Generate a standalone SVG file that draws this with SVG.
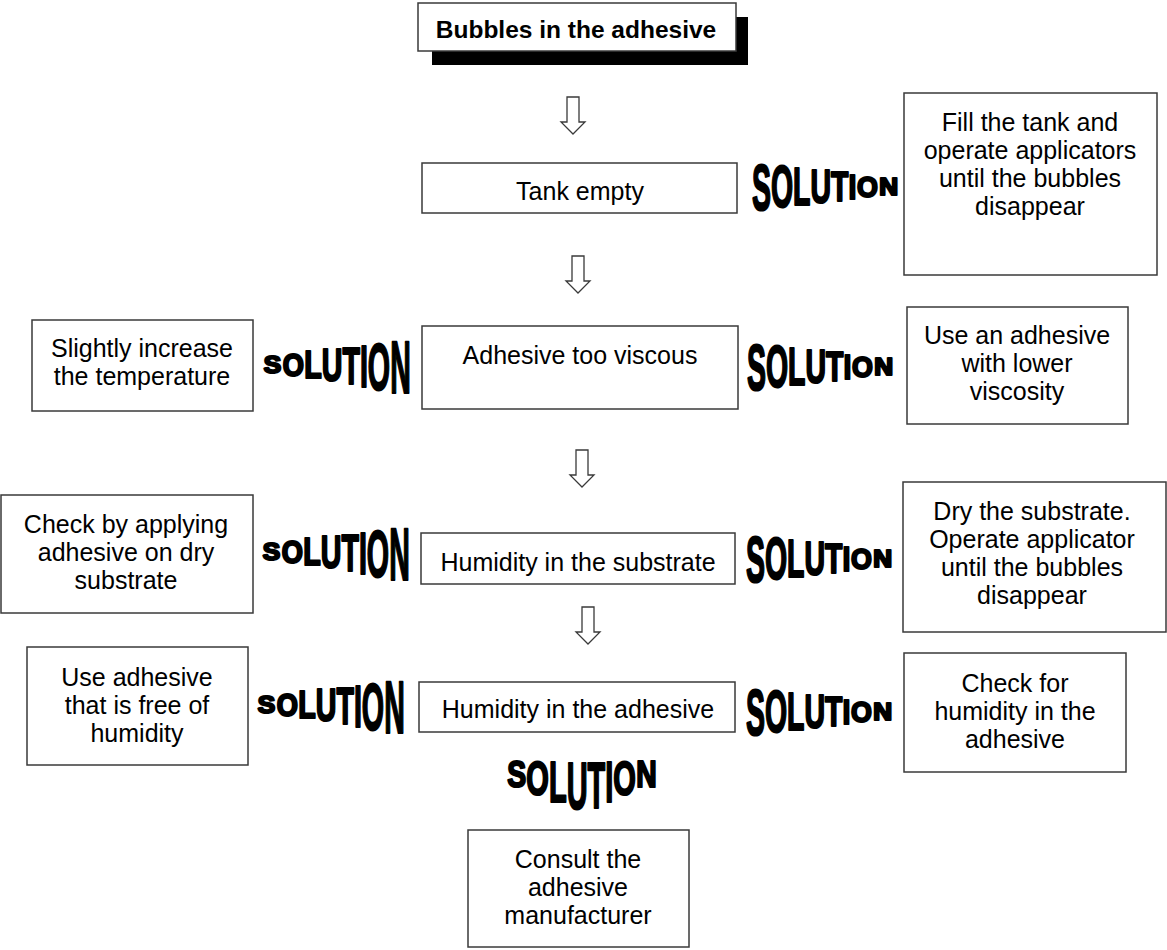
<svg xmlns="http://www.w3.org/2000/svg" width="1167" height="950" viewBox="0 0 1167 950">
<style>
.box{fill:#fff;stroke:#3a3a3a;stroke-width:1.5}
.t{font-family:"Liberation Sans",Arial,sans-serif;font-size:25px;fill:#000;text-anchor:middle}
.tb{font-family:"Liberation Sans",Arial,sans-serif;font-size:24.5px;font-weight:bold;fill:#000;text-anchor:middle}
.w{font-family:"Liberation Sans",Arial,sans-serif;font-weight:bold;fill:#000;stroke:#000;stroke-width:2.2;stroke-linejoin:round;text-anchor:middle}
.arr{fill:#fff;stroke:#3a3a3a;stroke-width:1.3}
</style>
<defs>
<path id="blk" d="M-6,0 H6 V25 H12 L0,37 L-12,25 H-6 Z"/>
</defs>
<rect width="1167" height="950" fill="#fff"/>

<g id="connectors">
<use href="#blk" class="arr" transform="translate(573,97)"/>
<use href="#blk" class="arr" transform="translate(578,256)"/>
<use href="#blk" class="arr" transform="translate(582,450)"/>
<use href="#blk" class="arr" transform="translate(588,607)"/>
</g>

<g id="title">
<rect x="432" y="17" width="316" height="48" fill="#000"/>
<rect x="418" y="3" width="318" height="48" class="box"/>
<text x="576" y="38" class="tb">Bubbles in the adhesive</text>
</g>

<g id="tank-empty">
<rect x="422" y="163" width="315" height="50" class="box"/>
<text x="580" y="200" class="t">Tank empty</text>
</g>

<g id="too-viscous">
<rect x="422" y="326" width="316" height="83" class="box"/>
<text x="580" y="364" class="t">Adhesive too viscous</text>
</g>

<g id="humidity-substrate">
<rect x="421" y="533" width="314" height="51" class="box"/>
<text x="578" y="571" class="t">Humidity in the substrate</text>
</g>

<g id="humidity-adhesive">
<rect x="419" y="682" width="316" height="50" class="box"/>
<text x="578" y="718" class="t">Humidity in the adhesive</text>
</g>

<g id="sol-fill">
<rect x="904" y="93" width="253" height="182" class="box"/>
<text class="t"><tspan x="1030" y="131">Fill the tank and</tspan><tspan x="1030" y="159">operate applicators</tspan><tspan x="1030" y="187">until the bubbles</tspan><tspan x="1030" y="215">disappear</tspan></text>
</g>

<g id="sol-lower-viscosity">
<rect x="907" y="307" width="221" height="117" class="box"/>
<text class="t"><tspan x="1017" y="344">Use an adhesive</tspan><tspan x="1017" y="372">with lower</tspan><tspan x="1017" y="400">viscosity</tspan></text>
</g>

<g id="sol-temperature">
<rect x="32" y="320" width="221" height="91" class="box"/>
<text class="t"><tspan x="142" y="357">Slightly increase</tspan><tspan x="142" y="385">the temperature</tspan></text>
</g>

<g id="sol-check-dry">
<rect x="1" y="495" width="252" height="118" class="box"/>
<text class="t"><tspan x="126" y="533">Check by applying</tspan><tspan x="126" y="561">adhesive on dry</tspan><tspan x="126" y="589">substrate</tspan></text>
</g>

<g id="sol-dry">
<rect x="903" y="482" width="263" height="150" class="box"/>
<text class="t"><tspan x="1032" y="520">Dry the substrate.</tspan><tspan x="1032" y="548">Operate applicator</tspan><tspan x="1032" y="576">until the bubbles</tspan><tspan x="1032" y="604">disappear</tspan></text>
</g>

<g id="sol-free-humidity">
<rect x="27" y="647" width="221" height="118" class="box"/>
<text class="t"><tspan x="137" y="686">Use adhesive</tspan><tspan x="137" y="714">that is free of</tspan><tspan x="137" y="742">humidity</tspan></text>
</g>

<g id="sol-check-humidity">
<rect x="904" y="653" width="222" height="119" class="box"/>
<text class="t"><tspan x="1015" y="692">Check for</tspan><tspan x="1015" y="720">humidity in the</tspan><tspan x="1015" y="748">adhesive</tspan></text>
</g>

<g id="sol-consult">
<rect x="468" y="830" width="221" height="117" class="box"/>
<text class="t"><tspan x="578" y="868">Consult the</tspan><tspan x="578" y="896">adhesive</tspan><tspan x="578" y="924">manufacturer</tspan></text>
</g>

<!-- SOLUTION word art, shrinking to the right -->
<g id="wa-r1" transform="translate(752,186)">
<text class="w" font-size="65.6" transform="translate(9.5,23.5) scale(0.434,1)">S</text>
<text class="w" font-size="59.7" transform="translate(30,21.4) scale(0.477,1)">O</text>
<text class="w" font-size="53.7" transform="translate(49.8,19.2) scale(0.53,1)">L</text>
<text class="w" font-size="47.7" transform="translate(68.8,17.1) scale(0.597,1)">U</text>
<text class="w" font-size="41.7" transform="translate(87.7,14.9) scale(0.682,1)">T</text>
<text class="w" font-size="35.8" transform="translate(100.4,12.8) scale(0.795,1)">I</text>
<text class="w" font-size="29.8" transform="translate(115.4,10.7) scale(0.9,1)">O</text>
<text class="w" font-size="23.7" transform="translate(136.7,8.5) scale(1.1,1)">N</text>
</g>
<g id="wa-r2" transform="translate(747,366)">
<text class="w" font-size="65.6" transform="translate(9.5,23.5) scale(0.434,1)">S</text>
<text class="w" font-size="59.7" transform="translate(30,21.4) scale(0.477,1)">O</text>
<text class="w" font-size="53.7" transform="translate(49.8,19.2) scale(0.53,1)">L</text>
<text class="w" font-size="47.7" transform="translate(68.8,17.1) scale(0.597,1)">U</text>
<text class="w" font-size="41.7" transform="translate(87.7,14.9) scale(0.682,1)">T</text>
<text class="w" font-size="35.8" transform="translate(100.4,12.8) scale(0.795,1)">I</text>
<text class="w" font-size="29.8" transform="translate(115.4,10.7) scale(0.9,1)">O</text>
<text class="w" font-size="23.7" transform="translate(136.7,8.5) scale(1.1,1)">N</text>
</g>
<g id="wa-r3" transform="translate(746,558)">
<text class="w" font-size="65.6" transform="translate(9.5,23.5) scale(0.434,1)">S</text>
<text class="w" font-size="59.7" transform="translate(30,21.4) scale(0.477,1)">O</text>
<text class="w" font-size="53.7" transform="translate(49.8,19.2) scale(0.53,1)">L</text>
<text class="w" font-size="47.7" transform="translate(68.8,17.1) scale(0.597,1)">U</text>
<text class="w" font-size="41.7" transform="translate(87.7,14.9) scale(0.682,1)">T</text>
<text class="w" font-size="35.8" transform="translate(100.4,12.8) scale(0.795,1)">I</text>
<text class="w" font-size="29.8" transform="translate(115.4,10.7) scale(0.9,1)">O</text>
<text class="w" font-size="23.7" transform="translate(136.7,8.5) scale(1.1,1)">N</text>
</g>
<g id="wa-r4" transform="translate(746,711)">
<text class="w" font-size="65.6" transform="translate(9.5,23.5) scale(0.434,1)">S</text>
<text class="w" font-size="59.7" transform="translate(30,21.4) scale(0.477,1)">O</text>
<text class="w" font-size="53.7" transform="translate(49.8,19.2) scale(0.53,1)">L</text>
<text class="w" font-size="47.7" transform="translate(68.8,17.1) scale(0.597,1)">U</text>
<text class="w" font-size="41.7" transform="translate(87.7,14.9) scale(0.682,1)">T</text>
<text class="w" font-size="35.8" transform="translate(100.4,12.8) scale(0.795,1)">I</text>
<text class="w" font-size="29.8" transform="translate(115.4,10.7) scale(0.9,1)">O</text>
<text class="w" font-size="23.7" transform="translate(136.7,8.5) scale(1.1,1)">N</text>
</g>

<!-- SOLUTION word art, growing to the right -->
<g id="wa-l1" transform="translate(263,364)">
<text class="w" font-size="23.7" transform="translate(9.5,8.5) scale(1.1,1)">S</text>
<text class="w" font-size="30.9" transform="translate(30.2,11.5) scale(0.88,1)">O</text>
<text class="w" font-size="38.1" transform="translate(50.1,14.4) scale(0.751,1)">L</text>
<text class="w" font-size="45.3" transform="translate(69.1,17.4) scale(0.631,1)">U</text>
<text class="w" font-size="52.5" transform="translate(88.2,20.4) scale(0.545,1)">T</text>
<text class="w" font-size="59.7" transform="translate(100.9,23.4) scale(0.479,1)">I</text>
<text class="w" font-size="66.9" transform="translate(116,26.3) scale(0.428,1)">O</text>
<text class="w" font-size="74" transform="translate(137.5,29.3) scale(0.386,1)">N</text>
</g>
<g id="wa-l2" transform="translate(262,551)">
<text class="w" font-size="23.7" transform="translate(9.5,8.5) scale(1.1,1)">S</text>
<text class="w" font-size="30.9" transform="translate(30.2,11.5) scale(0.88,1)">O</text>
<text class="w" font-size="38.1" transform="translate(50.1,14.4) scale(0.751,1)">L</text>
<text class="w" font-size="45.3" transform="translate(69.1,17.4) scale(0.631,1)">U</text>
<text class="w" font-size="52.5" transform="translate(88.2,20.4) scale(0.545,1)">T</text>
<text class="w" font-size="59.7" transform="translate(100.9,23.4) scale(0.479,1)">I</text>
<text class="w" font-size="66.9" transform="translate(116,26.3) scale(0.428,1)">O</text>
<text class="w" font-size="74" transform="translate(137.5,29.3) scale(0.386,1)">N</text>
</g>
<g id="wa-l3" transform="translate(257,704)">
<text class="w" font-size="23.7" transform="translate(9.5,8.5) scale(1.1,1)">S</text>
<text class="w" font-size="30.9" transform="translate(30.2,11.5) scale(0.88,1)">O</text>
<text class="w" font-size="38.1" transform="translate(50.1,14.4) scale(0.751,1)">L</text>
<text class="w" font-size="45.3" transform="translate(69.1,17.4) scale(0.631,1)">U</text>
<text class="w" font-size="52.5" transform="translate(88.2,20.4) scale(0.545,1)">T</text>
<text class="w" font-size="59.7" transform="translate(100.9,23.4) scale(0.479,1)">I</text>
<text class="w" font-size="66.9" transform="translate(116,26.3) scale(0.428,1)">O</text>
<text class="w" font-size="74" transform="translate(137.5,29.3) scale(0.386,1)">N</text>
</g>

<!-- SOLUTION word art, arched -->
<g id="wa-bottom">
<text class="w" font-size="36.3" transform="translate(516.7,787) scale(0.78,1)">S</text>
<text class="w" font-size="47.5" transform="translate(537.6,795) scale(0.611,1)">O</text>
<text class="w" font-size="57.3" transform="translate(557.8,802) scale(0.506,1)">L</text>
<text class="w" font-size="67" transform="translate(577.1,809) scale(0.433,1)">U</text>
<text class="w" font-size="65.6" transform="translate(596.4,808) scale(0.442,1)">T</text>
<text class="w" font-size="57.3" transform="translate(609.3,802) scale(0.506,1)">I</text>
<text class="w" font-size="47.5" transform="translate(624.6,795) scale(0.611,1)">O</text>
<text class="w" font-size="36.3" transform="translate(646.4,787) scale(0.78,1)">N</text>
</g>
</svg>
